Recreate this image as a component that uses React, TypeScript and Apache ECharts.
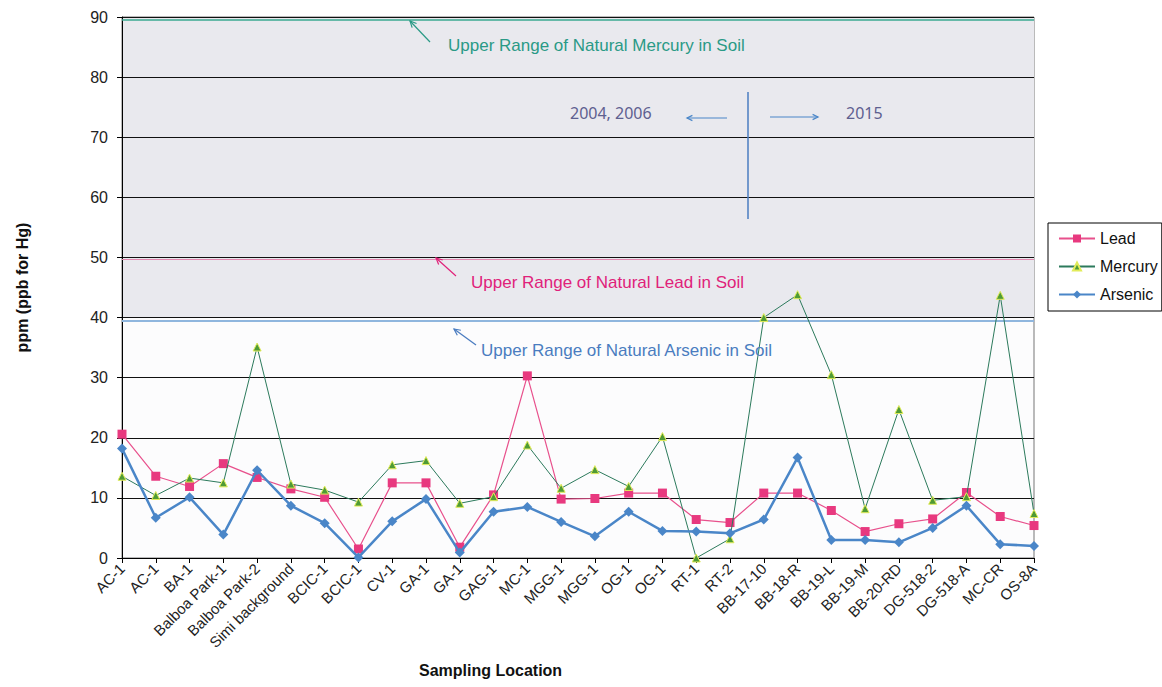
import React, { useEffect, useRef } from "react";
import * as echarts from "echarts";

const categories = [
  "AC-1", "AC-1", "BA-1", "Balboa Park-1", "Balboa Park-2", "Simi background",
  "BCIC-1", "BCIC-1", "CV-1", "GA-1", "GA-1", "GAG-1", "MC-1", "MGG-1", "MGG-1",
  "OG-1", "OG-1", "RT-1", "RT-2", "BB-17-10", "BB-18-R", "BB-19-L", "BB-19-M",
  "BB-20-RD", "DG-518-2", "DG-518-A", "MC-CR", "OS-8A",
];
const lead = [20.6, 13.6, 11.9, 15.7, 13.4, 11.5, 10.1, 1.5, 12.5, 12.5, 1.8, 10.5, 30.3, 9.8, 9.9, 10.8, 10.8, 6.4, 5.9, 10.8, 10.8, 7.9, 4.4, 5.7, 6.5, 10.9, 6.9, 5.4];
const mercury = [13.6, 10.4, 13.3, 12.5, 35.1, 12.3, 11.3, 9.3, 15.5, 16.2, 9.1, 10.2, 18.8, 11.6, 14.7, 11.9, 20.2, 0, 3.2, 40.0, 43.8, 30.5, 8.2, 24.7, 9.6, 10.2, 43.7, 7.4];
const arsenic = [18.2, 6.7, 10.1, 3.9, 14.6, 8.7, 5.8, 0.1, 6.1, 9.8, 0.9, 7.7, 8.5, 6.0, 3.6, 7.7, 4.5, 4.4, 4.1, 6.4, 16.7, 3.0, 3.0, 2.6, 5.0, 8.7, 2.3, 2.0];
const mercuryLimit = 89.6;
const leadLimit = 49.7;
const arsenicLimit = 39.4;
const yTicks = { min: 0, max: 90, interval: 10 };

const FONT = "Liberation Sans, Arial, sans-serif";

function arrow(x1: number, y1: number, x2: number, y2: number, color: string, head = 7) {
  const ang = Math.atan2(y2 - y1, x2 - x1);
  const a1 = ang + Math.PI - 0.45;
  const a2 = ang + Math.PI + 0.45;
  return {
    type: "group",
    z: 20,
    children: [
      { type: "line", z: 20, shape: { x1, y1, x2, y2 }, style: { stroke: color, lineWidth: 1.2 } },
      {
        type: "polyline",
        z: 20,
        shape: {
          points: [
            [x2 + head * Math.cos(a1), y2 + head * Math.sin(a1)],
            [x2, y2],
            [x2 + head * Math.cos(a2), y2 + head * Math.sin(a2)],
          ],
        },
        style: { stroke: color, lineWidth: 1.2, fill: null },
      },
    ],
  };
}

export default function App() {
  const ref = useRef<HTMLDivElement>(null);
  useEffect(() => {
    if (!ref.current) return;
    const chart = echarts.init(ref.current, null, { renderer: "svg" });
    const option = {
      animation: false,
      backgroundColor: "#ffffff",
      textStyle: { fontFamily: FONT },
      grid: {
        left: 122, right: 128, top: 17, bottom: 129,
        show: true, borderColor: "#777", borderWidth: 1, backgroundColor: "#fcfcfd",
      },
      legend: {
        orient: "vertical",
        left: 1048,
        top: 223,
        padding: [7, 4, 8, 10],
        borderColor: "#000",
        borderWidth: 1,
        backgroundColor: "#fff",
        itemWidth: 36,
        itemHeight: 10,
        itemGap: 11,
        textStyle: { fontSize: 16, lineHeight: 17, color: "#111", fontFamily: FONT },
        data: ["Lead", "Mercury", "Arsenic"],
      },
      xAxis: {
        type: "category",
        data: categories,
        boundaryGap: false,
        z: 2,
        axisLine: { lineStyle: { color: "#000", width: 1 } },
        axisTick: { show: true, length: 5, interval: 0, lineStyle: { color: "#000" } },
        axisLabel: { interval: 0, rotate: 45, fontSize: 15, color: "#222", margin: 8, fontFamily: FONT },
        splitLine: { show: false },
      },
      yAxis: {
        type: "value",
        min: yTicks.min,
        max: yTicks.max,
        interval: yTicks.interval,
        z: 2,
        name: "ppm (ppb for Hg)",
        nameLocation: "middle",
        nameGap: 92,
        nameTextStyle: { fontSize: 16, fontWeight: "bold", color: "#111", fontFamily: FONT },
        axisLine: { show: true, lineStyle: { color: "#000", width: 1 } },
        axisTick: { show: true, length: 5, lineStyle: { color: "#000" } },
        axisLabel: { fontSize: 16, color: "#222", margin: 14, fontFamily: FONT },
        splitLine: { show: true, lineStyle: { color: "#111", width: 1.2 } },
      },
      series: [
        {
          name: "Lead",
          type: "line",
          data: lead,
          symbol: "rect",
          symbolSize: 9,
          lineStyle: { color: "#e8508c", width: 1.2 },
          itemStyle: { color: "#e8397f" },
          z: 4,
          markArea: {
            silent: true,
            z: 0,
            itemStyle: { color: "#e9e9ee" },
            data: [[{ yAxis: 40 }, { yAxis: 90 }]],
          },
          markLine: {
            silent: true,
            symbol: "none",
            z: 3,
            label: { show: false },
            data: [
              { yAxis: mercuryLimit, lineStyle: { color: "#3aa890", width: 1.5, type: "solid" } },
              { yAxis: leadLimit, lineStyle: { color: "#e488b0", width: 1.2, type: "solid" } },
              { yAxis: arsenicLimit, lineStyle: { color: "#8fb6de", width: 1.8, type: "solid" } },
            ],
          },
        },
        {
          name: "Mercury",
          type: "line",
          data: mercury,
          symbol: "triangle",
          symbolSize: 8,
          lineStyle: { color: "#2c7a5c", width: 1 },
          itemStyle: { color: "#4f9a36", borderColor: "#e2ec5a", borderWidth: 1 },
          z: 5,
        },
        {
          name: "Arsenic",
          type: "line",
          data: arsenic,
          symbol: "diamond",
          symbolSize: 10,
          lineStyle: { color: "#4a86c8", width: 2.5 },
          itemStyle: { color: "#4a86c8" },
          z: 6,
        },
      ],
      graphic: [
        { type: "text", z: 20, left: 419, top: 662, style: { text: "Sampling Location", font: `bold 16px ${FONT}`, fill: "#111" } },
        { type: "text", z: 20, left: 448, top: 37, style: { text: "Upper Range of Natural Mercury in Soil", font: `17px ${FONT}`, fill: "#2a9a86" } },
        arrow(430, 42, 410, 21, "#2a9a86"),
        { type: "text", z: 20, left: 471, top: 274, style: { text: "Upper Range of Natural Lead in Soil", font: `17px ${FONT}`, fill: "#e0227a" } },
        arrow(456, 276, 436, 258, "#e0227a"),
        { type: "text", z: 20, left: 481, top: 342, style: { text: "Upper Range of Natural Arsenic in Soil", font: `17px ${FONT}`, fill: "#4a7cc0" } },
        arrow(476, 345, 454, 329, "#4a7cc0"),
        { type: "text", z: 20, left: 570, top: 105, style: { text: "2004, 2006", font: `16px "Noto Sans", sans-serif`, fill: "#5e6090" } },
        arrow(727, 118, 687, 118, "#4a86c8", 6),
        { type: "line", z: 20, shape: { x1: 748, y1: 92, x2: 748, y2: 219 }, style: { stroke: "#4a7cc0", lineWidth: 1.5 } },
        arrow(770, 117, 818, 117, "#4a86c8", 6),
        { type: "text", z: 20, left: 846, top: 105, style: { text: "2015", font: `16px "Noto Sans", sans-serif`, fill: "#5e6090" } },
      ],
    };
    chart.setOption(option as any);
    return () => chart.dispose();
  }, []);
  return <div ref={ref} style={{ width: 1162, height: 687, position: "absolute", left: 0, top: 0 }} />;
}
